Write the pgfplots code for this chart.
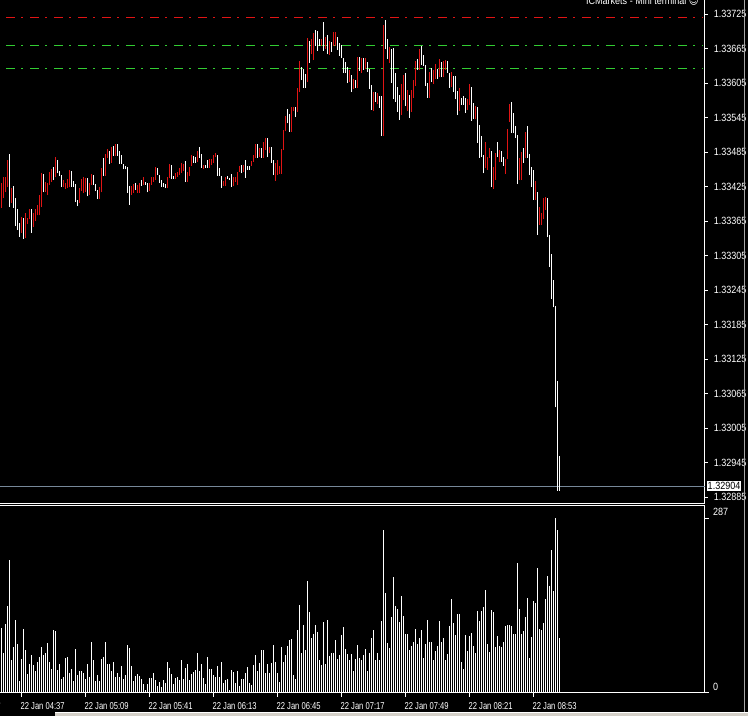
\documentclass[border=0pt]{standalone}
\usepackage{fontspec}
\setmainfont{Liberation Sans}
\newfontfamily\djv{DejaVu Sans}
\usepackage{pgfplots}
\usepackage{pgfplotstable}
\pgfplotsset{compat=1.18}

\definecolor{bull}{RGB}{225,20,20}
\definecolor{lime}{RGB}{50,205,50}
\definecolor{bidgray}{RGB}{119,136,153}
\definecolor{panel}{RGB}{212,208,200}

% one-minute bars, EURUSD-style quote 1.33xxx stored as points above 1.33000
% m = minute index (0 = 04:27), hi/lo in points, up = 1 for a rising bar, vol = tick volume
\pgfplotstableread{
m hi lo up vol
0 431 388 1 107
1 442 405 1 65
2 442 415 1 113
3 471 424 1 142
4 482 389 0 219
5 422 396 1 54
6 426 388 0 76
7 405 356 0 120
8 386 349 0 80
9 362 337 0 19
10 372 344 1 56
11 370 334 0 105
12 379 335 1 70
13 370 360 1 31
14 386 368 1 47
15 386 344 0 62
16 379 355 1 46
17 386 365 1 36
18 393 375 1 50
19 410 375 1 59
20 448 389 1 76
21 447 415 0 62
22 433 415 1 65
23 431 410 1 81
24 450 428 1 50
25 455 433 1 39
26 459 436 0 103
27 476 442 1 102
28 471 448 0 37
29 452 443 0 47
30 445 424 0 23
31 436 424 1 26
32 431 421 1 57
33 438 422 1 59
34 454 424 1 33
35 452 424 0 39
36 435 424 0 19
37 429 398 0 72
38 402 391 0 29
39 422 396 1 36
40 438 417 1 36
41 442 414 1 33
42 440 415 1 23
43 440 408 0 47
44 431 410 1 26
45 447 428 1 84
46 445 428 0 54
47 429 417 0 19
48 419 403 0 29
49 424 403 1 19
50 457 415 1 56
51 475 443 0 59
52 482 443 1 84
53 490 475 1 48
54 487 464 0 48
55 494 466 1 36
56 495 478 0 50
57 499 478 1 26
58 499 478 0 32
59 487 464 0 26
60 480 464 0 44
61 464 455 0 23
62 461 455 0 29
63 459 414 0 79
64 426 393 0 74
65 426 410 1 44
66 429 414 1 19
67 431 419 0 27
68 428 414 1 31
69 431 414 1 27
70 436 426 0 23
71 442 428 1 14
72 433 428 0 4
73 431 415 0 14
74 431 417 1 24
75 442 428 1 25
76 442 433 1 32
77 459 436 1 21
78 457 445 0 11
79 445 431 0 18
80 436 424 0 10
81 431 424 0 21
82 429 422 0 16
83 442 422 1 51
84 464 440 1 41
85 462 438 0 31
86 443 438 0 15
87 448 438 1 24
88 450 442 1 26
89 457 445 1 21
90 466 448 1 54
91 464 452 1 23
92 469 433 0 41
93 450 433 1 47
94 459 443 1 21
95 480 461 1 31
96 478 466 0 34
97 476 466 0 37
98 487 468 1 65
99 494 475 0 36
100 482 457 0 47
101 462 455 1 24
102 462 457 0 14
103 471 457 0 59
104 473 457 1 39
105 473 462 1 39
106 480 466 1 29
107 483 476 1 26
108 480 443 0 44
109 457 443 0 26
110 443 422 0 51
111 435 426 1 16
112 442 426 1 21
113 443 438 0 23
114 440 436 0 4
115 447 424 0 37
116 442 426 1 34
117 442 433 1 16
118 450 428 1 36
119 461 450 1 11
120 462 448 0 23
121 462 450 1 23
122 471 440 0 32
123 461 454 0 43
124 461 454 0 16
125 469 461 1 13
126 480 468 1 46
127 499 475 1 62
128 499 475 0 36
129 492 476 1 49
130 492 475 0 70
131 502 475 1 70
132 509 488 1 32
133 509 476 0 47
134 494 483 1 32
135 494 466 0 49
136 471 445 0 79
137 466 435 1 51
138 471 445 1 32
139 461 447 1 18
140 490 447 1 75
141 523 488 1 51
142 548 521 1 62
143 560 535 0 77
144 551 520 0 87
145 563 520 1 88
146 563 556 1 29
147 563 546 0 23
148 596 555 1 103
149 643 589 1 145
150 633 610 0 65
151 629 596 0 112
152 621 596 0 70
153 683 607 1 184
154 678 640 0 133
155 682 655 1 90
156 692 645 1 97
157 697 669 0 112
158 695 661 0 100
159 682 669 0 54
160 682 669 1 46
161 711 661 0 117
162 685 664 1 47
163 688 655 0 120
164 678 654 1 60
165 676 659 0 65
166 694 669 1 65
167 694 669 1 87
168 685 662 0 56
169 675 652 0 62
170 671 648 0 95
171 648 622 0 108
172 642 622 0 72
173 633 605 0 64
174 628 607 1 54
175 619 589 0 64
176 612 595 1 36
177 610 596 0 56
178 650 596 1 79
179 650 626 0 57
180 648 622 1 54
181 648 628 0 62
182 648 629 1 72
183 642 624 0 36
184 629 595 0 65
185 602 558 0 90
186 589 556 1 103
187 589 572 0 54
188 588 568 1 65
189 582 562 0 54
190 582 513 0 118
191 706 513 1 268
192 715 664 0 164
193 682 647 0 82
194 668 640 1 74
195 664 605 0 125
196 666 577 0 191
197 622 572 0 143
198 598 555 0 138
199 584 541 0 117
200 603 549 1 159
201 619 575 1 126
202 622 565 0 97
203 593 556 1 97
204 584 544 0 70
205 593 555 1 77
206 610 579 1 84
207 643 600 1 105
208 647 628 0 80
209 664 628 1 90
210 669 636 0 103
211 654 635 0 57
212 636 600 0 80
213 605 579 0 120
214 624 579 1 84
215 631 607 0 84
216 628 603 1 54
217 638 612 1 69
218 629 612 0 77
219 647 615 1 118
220 642 615 0 84
221 643 615 1 90
222 645 628 1 54
223 643 622 0 64
224 622 596 0 110
225 624 598 1 154
226 617 589 0 115
227 617 577 0 95
228 591 549 0 130
229 596 556 1 130
230 579 567 0 51
231 582 567 0 39
232 579 553 0 95
233 577 558 1 69
234 603 567 1 93
235 598 539 0 98
236 570 542 0 77
237 565 542 1 65
238 563 501 0 135
239 532 475 0 118
240 513 476 0 135
241 480 448 0 141
242 502 457 1 169
243 476 454 1 80
244 492 475 1 67
245 487 424 0 136
246 459 421 1 133
247 483 436 1 75
248 502 476 0 93
249 488 468 1 77
250 487 468 0 75
251 476 461 0 84
252 473 447 1 110
253 525 473 1 112
254 568 537 1 112
255 572 518 0 110
256 553 518 0 97
257 530 509 0 97
258 515 429 0 214
259 475 436 1 138
260 485 436 1 97
261 492 466 0 102
262 520 475 1 125
263 530 475 0 156
264 482 445 0 57
265 459 424 0 92
266 454 402 0 151
267 435 402 1 148
268 415 341 0 206
269 389 358 1 105
270 379 358 1 103
271 405 368 1 115
272 407 384 1 154
273 405 337 0 192
274 341 285 0 176
275 308 229 0 234
276 262 215 0 168
277 217 41 0 287
278 87 -104 0 268
279 -44 -104 0 90
}\bars

\tikzset{
  tl/.style={anchor=north west, inner sep=0pt, xshift=-1pt, yshift=-6pt,
    xscale=0.76, text=white, font=\fontsize{10}{11}\selectfont},
}
\pgfplotsset{
  mt/.style={
    scale only axis, width=704.7pt,
    xmin=-0.75, xmax=351.6,
    axis x line*=bottom, axis y line*=right,
    axis line style={white, line width=1pt},
    tick align=outside, major tick length=3pt,
    tick style={white, line width=1pt},
    ticklabel style={text=white, font=\fontsize{10.5}{11}\selectfont},
    yticklabel style={anchor=west, inner sep=0pt, xshift=6pt, xscale=0.86},
    clip=false,
  },
}

\begin{document}
\begin{tikzpicture}[x=1pt,y=1pt]
\fill[black] (0,0) rectangle (748,716);
\useasboundingbox (0,0) rectangle (748,716);

% price panel
\begin{axis}[mt,
  at={(0pt,212.7pt)}, anchor=south west, height=503.3pt,
  ymin=-125.95, ymax=749.35,
  xtick=\empty,
  ytick={-115,-55,...,725},
  yticklabels={1.32885,1.32945,1.33005,1.33065,1.33125,1.33185,1.33245,1.33305,
    1.33365,1.33425,1.33485,1.33545,1.33605,1.33665,1.33725},
]
\addplot[bidgray, line width=1pt] coordinates {(-0.75,-96) (351.6,-96)};
\addplot[bull, line width=1pt, dash pattern=on 9pt off 6pt on 2pt off 7pt]
  coordinates {(2.25,719) (350.75,719)};
\addplot[lime, line width=1pt, dash pattern=on 9pt off 6pt on 2pt off 7pt]
  coordinates {(2.25,671) (350.75,671)};
\addplot[lime, line width=1pt, dash pattern=on 9pt off 6pt on 2pt off 7pt]
  coordinates {(2.25,631) (350.75,631)};
\addplot[white, line width=1pt, quiver={u=0, v=\thisrow{hi}-\thisrow{lo}},
  restrict expr to domain={\thisrow{up}}{-0.5:0.5}]
  table[x=m, y=lo] {\bars};
\addplot[bull, line width=1pt, quiver={u=0, v=\thisrow{hi}-\thisrow{lo}},
  restrict expr to domain={\thisrow{up}}{0.5:1.5}]
  table[x=m, y=lo] {\bars};
\node[fill=white, text=black, inner sep=1pt, anchor=west, xshift=2pt, xscale=0.86,
  font=\fontsize{10.5}{11}\selectfont] at (axis cs:351.6,-96) {1.32904};
\end{axis}

% volume panel
\begin{axis}[mt,
  at={(0pt,23.3pt)}, anchor=south west, height=187pt,
  ymin=0, ymax=307.7,
  major tick length=4pt,
  xtick={10,42,...,266},
  xticklabels={22 Jan 04:37,22 Jan 05:09,22 Jan 05:41,22 Jan 06:13,22 Jan 06:45,
    22 Jan 07:17,22 Jan 07:49,22 Jan 08:21,22 Jan 08:53},
  xticklabel style={tl},
  ytick={0,287}, yticklabels={0,287},
  yticklabel style={xshift=-2pt, yshift=6pt},
]
\addplot[white, line width=1pt, ycomb] table[x=m, y=vol] {\bars};
\node[tl] at (axis cs:-22,0) {22 Jan 04:04};
\end{axis}

% window frame
\draw[white, line width=1pt] (0,210.3) -- (704.7,210.3);
\draw[gray!70, line width=1pt] (744.5,3.5) -- (744.5,716);
\fill[panel] (55,0) rectangle (748,3.5);
\draw[white, line width=0.8pt] (55,3.5) -- (748,3.5);
\node[anchor=base east, inner sep=0pt, text=white, xscale=0.86, font=\fontsize{10.5}{11}\selectfont]
  at (699,711) {ICMarkets - Mini terminal {\djv\fontsize{11}{11}\selectfont ☺}};
\end{tikzpicture}
\end{document}
